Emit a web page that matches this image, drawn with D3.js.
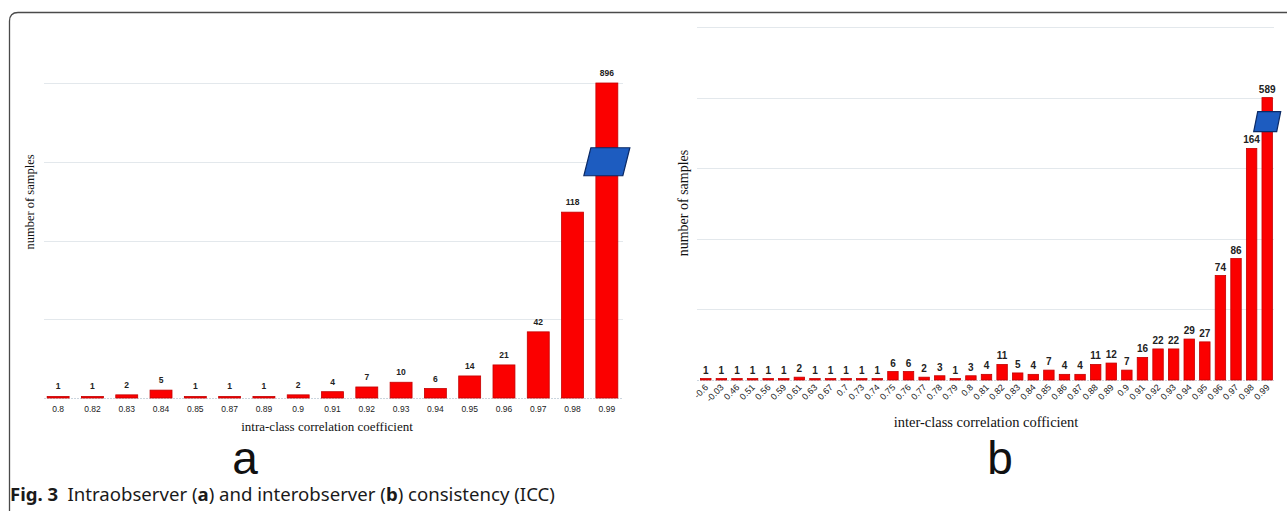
<!DOCTYPE html>
<html>
<head>
<meta charset="utf-8">
<script src="https://cdn.jsdelivr.net/npm/d3@7"></script>
<style>
  html, body { margin: 0; padding: 0; background: #fff; }
  svg { display: block; }
</style>
</head>
<body>
<svg id="fig" width="1287" height="511"></svg>
<script>
// ---- data ----
const intraCategories = ["0.8","0.82","0.83","0.84","0.85","0.87","0.89","0.9","0.91","0.92","0.93","0.94","0.95","0.96","0.97","0.98","0.99"];
const intraCounts = [1,1,2,5,1,1,1,2,4,7,10,6,14,21,42,118,896];

const interCategories = ["-0.6","-0.03","0.46","0.51","0.56","0.59","0.61","0.63","0.67","0.7","0.73","0.74","0.75","0.76","0.77","0.78","0.79","0.8","0.81","0.82","0.83","0.84","0.85","0.86","0.87","0.88","0.89","0.9","0.91","0.92","0.93","0.94","0.95","0.96","0.97","0.98","0.99"];
const interCounts = [1,1,1,1,1,1,2,1,1,1,1,1,6,6,2,3,1,3,4,11,5,4,7,4,4,11,12,7,16,22,22,29,27,74,86,164,589];

const intraGrid = [50,100,150,200];
const interGrid = [50,100,150,200,250];

const svg = d3.select("#fig");
const SANS = "'Liberation Sans', Arial, sans-serif";
const SERIF = "'Liberation Serif', 'Times New Roman', serif";

// rounded figure frame (open to the right and bottom)
svg.append("path")
  .attr("d", "M9.5,511 L9.5,21 Q9.5,12.5 18,12.5 L1287,12.5")
  .attr("fill", "none").attr("stroke", "#4a4a4a").attr("stroke-width", 1.3);

function drawPanel(cfg) {
  const g = svg.append("g");

  const x = d3.scaleBand()
    .domain(cfg.categories)
    .range([cfg.x0, cfg.x1])
    .paddingInner(cfg.padInner)
    .paddingOuter(cfg.padInner / 2);

  // lower, unbroken part of the value axis (gridlines live here)
  const yLow = d3.scaleLinear().domain([0, cfg.lowMax]).range([cfg.base, cfg.top]);
  // broken axis: everything above the break is squeezed up to the cap line
  const yMax = d3.max(cfg.values);
  const y = d3.scaleLinear()
    .domain([0, cfg.breakAt, yMax])
    .range([yLow(0), yLow(cfg.breakAt), yLow(cfg.capAt)]);

  // gridlines
  g.append("g").selectAll("line").data(cfg.grid).join("line")
    .attr("x1", cfg.gx0).attr("x2", cfg.gx1)
    .attr("y1", d => Math.round(yLow(d)) + 0.5).attr("y2", d => Math.round(yLow(d)) + 0.5)
    .attr("stroke", "#e3e8ec").attr("stroke-width", 1.2);

  // baseline
  g.append("line")
    .attr("x1", cfg.gx0).attr("x2", cfg.gx1)
    .attr("y1", yLow(0) + 0.5).attr("y2", yLow(0) + 0.5)
    .attr("stroke", "#cbd5de").attr("stroke-width", 1)
    .attr("stroke-dasharray", "2,1");

  const data = cfg.categories.map((c, i) => ({ c, v: cfg.values[i] }));

  // bars
  g.append("g").selectAll("rect").data(data).join("rect")
    .attr("x", d => x(d.c))
    .attr("width", x.bandwidth())
    .attr("y", d => y(d.v))
    .attr("height", d => y(0) - y(d.v))
    .attr("fill", "#fb0000")
    .attr("stroke", "#c40000")
    .attr("stroke-width", 0.8);

  // value labels
  g.append("g").selectAll("text").data(data).join("text")
    .attr("x", d => x(d.c) + x.bandwidth() / 2)
    .attr("y", d => y(d.v) - cfg.labelGap)
    .attr("text-anchor", "middle")
    .attr("font-family", SANS)
    .attr("font-size", cfg.labelSize)
    .attr("font-weight", "bold")
    .attr("fill", "#222")
    .text(d => d.v);

  // category labels
  const ticks = g.append("g").selectAll("text").data(cfg.categories).join("text")
    .attr("font-family", SANS)
    .attr("font-size", cfg.tickSize)
    .attr("fill", "#222")
    .text(d => d);
  if (cfg.rotate) {
    ticks.attr("text-anchor", "end")
      .attr("transform", d => `translate(${x(d) + x.bandwidth() / 2 + 3},${cfg.base + 8}) rotate(-45)`);
  } else {
    ticks.attr("text-anchor", "middle")
      .attr("x", d => x(d) + x.bandwidth() / 2)
      .attr("y", cfg.base + 14);
  }

  // axis-break marker on the tallest bar
  const top = data.find(d => d.v === yMax);
  const cx = x(top.c) + x.bandwidth() / 2;
  const cy = yLow(cfg.breakAt);
  const m = cfg.marker;
  g.append("path")
    .attr("d", `M${cx - m.w / 2 + m.skew / 2},${cy - m.h / 2}
                L${cx + m.w / 2 + m.skew / 2},${cy - m.h / 2}
                L${cx + m.w / 2 - m.skew / 2},${cy + m.h / 2}
                L${cx - m.w / 2 - m.skew / 2},${cy + m.h / 2}Z`)
    .attr("fill", "#1d5cc0")
    .attr("stroke", "#0b2a66")
    .attr("stroke-width", 1.2);

  // axis titles
  g.append("text")
    .attr("transform", `translate(${cfg.yTitleX},${cfg.yTitleY}) rotate(-90)`)
    .attr("text-anchor", "middle")
    .attr("font-family", SERIF)
    .attr("font-size", cfg.titleSize)
    .attr("fill", "#111")
    .text("number of samples");

  g.append("text")
    .attr("x", cfg.xTitleX).attr("y", cfg.xTitleY)
    .attr("text-anchor", "middle")
    .attr("font-family", SERIF)
    .attr("font-size", cfg.titleSize + 0.5)
    .attr("fill", "#111")
    .text(cfg.xTitle);

  // panel letter
  g.append("text")
    .attr("x", cfg.letterX).attr("y", 474)
    .attr("text-anchor", "middle")
    .attr("font-family", SANS)
    .attr("font-size", 46)
    .attr("fill", "#111")
    .text(cfg.letter);
}

drawPanel({
  categories: intraCategories, values: intraCounts, grid: intraGrid,
  x0: 41, x1: 624, gx0: 44, gx1: 623, padInner: 0.36,
  base: 398, top: 83, lowMax: 200, capAt: 200, breakAt: 150,
  labelSize: 8.5, labelGap: 7, tickSize: 8.5, rotate: false,
  marker: { w: 39, h: 28, skew: 7 },
  yTitleX: 34, yTitleY: 202, titleSize: 12.5,
  xTitle: "intra-class correlation coefficient", xTitleX: 327, xTitleY: 431,
  letter: "a", letterX: 245
});

drawPanel({
  categories: interCategories, values: interCounts, grid: interGrid,
  x0: 698, x1: 1275, gx0: 697, gx1: 1274, padInner: 0.33,
  base: 380, top: 27, lowMax: 250, capAt: 200, breakAt: 183,
  labelSize: 10, labelGap: 5, tickSize: 9, rotate: true,
  marker: { w: 23, h: 20, skew: 4 },
  yTitleX: 688, yTitleY: 203, titleSize: 14,
  xTitle: "inter-class correlation cofficient", xTitleX: 986, xTitleY: 427,
  letter: "b", letterX: 1000
});

// figure caption
const cap = svg.append("text")
  .attr("x", 10).attr("y", 501)
  .attr("font-family", "'Noto Sans', 'Open Sans', sans-serif")
  .attr("font-size", 18.6)
  .attr("fill", "#1a1a1a");
cap.append("tspan").attr("font-weight", "bold").text("Fig. 3");
cap.append("tspan").text("\u2002Intraobserver (");
cap.append("tspan").attr("font-weight", "bold").text("a");
cap.append("tspan").text(") and interobserver (");
cap.append("tspan").attr("font-weight", "bold").text("b");
cap.append("tspan").text(") consistency (ICC)");
</script>
</body>
</html>
